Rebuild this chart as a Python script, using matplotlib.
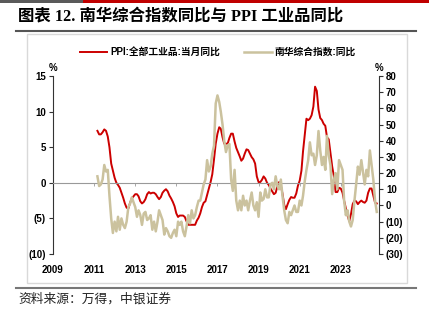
# 南华综合指数同比与 PPI 工业品同比
import numpy as np
import matplotlib
matplotlib.use('Agg')
import matplotlib.pyplot as plt
import pandas as pd
from matplotlib.lines import Line2D
from matplotlib.patches import Rectangle

plt.rcParams['font.family'] = ['Liberation Sans', 'Noto Sans CJK SC', 'DejaVu Sans']
plt.rcParams['axes.unicode_minus'] = False

# Data, monthly from 2011-03 to 2024-10
start = '2011-03-01'

# PPI: 全部工业品: 当月同比 (%), left axis
ppi = [7.3, 6.8, 6.8, 7.1, 7.5, 7.3, 6.5, 5.0, 2.7, 1.7,
       0.7, 0.0, -0.3, -0.7, -1.4, -2.1, -2.9, -3.5, -3.6, -2.8, -2.2, -1.9,
       -1.6, -1.6, -1.9, -2.6, -2.9, -2.7, -2.3, -1.6, -1.3, -1.5, -1.4, -1.4,
       -1.6, -2.0, -2.3, -2.0, -1.4, -1.1, -0.9, -1.2, -1.8, -2.2, -2.7, -3.3,
       -4.3, -4.8, -4.6, -4.6, -4.6, -4.8, -5.4, -5.9, -5.9, -5.9, -5.9, -5.9,
       -5.3, -4.9, -4.3, -3.4, -2.8, -2.6, -1.7, -0.8, 0.1, 1.2, 3.3, 5.5,
       6.9, 7.8, 7.6, 6.4, 5.5, 5.5, 5.5, 6.3, 6.9, 6.9, 5.8, 4.9,
       4.3, 3.7, 3.1, 3.4, 4.1, 4.7, 4.6, 4.1, 3.6, 3.3, 2.7, 0.9,
       0.1, 0.1, 0.4, 0.9, 0.6, 0.0, -0.3, -0.8, -1.2, -1.6, -1.4, -0.5,
       0.1, -0.4, -1.5, -3.1, -3.7, -3.0, -2.4, -2.0, -2.1, -2.1, -1.5, -0.4,
       0.3, 1.7, 4.4, 6.8, 9.0, 8.8, 9.0, 9.5, 10.7, 13.5, 12.9, 10.3,
       9.1, 8.8, 8.3, 8.0, 6.4, 6.1, 4.2, 2.3, 0.9, -1.3, -1.3, -0.7,
       -0.8, -1.4, -2.5, -3.6, -4.6, -5.4, -4.4, -3.0, -2.5, -2.6, -3.0, -2.7,
       -2.5, -2.7, -2.8, -2.5, -1.4, -0.8, -0.8, -1.8, -2.8, -2.9]

# 南华综合指数: 同比 (%), right axis
nanhua = [18, 12, 13, 16, 25, 21, 22, 6, -8, -17,
          -10, -16, -7, -15, -8, -12, -14, -10, -1, 1, 5, 2,
          -1, -7, -3, -6, -12, -5, -4, -9, -8, -6, -15, -10,
          -16, -10, -3, -6, -9, -18, -14, -16, -19, -20, -17, -15,
          -19, -10, -12, -10, -16, -19, -13, -6, -11, -3, -8, -6,
          -1, 3, 3, 8, 13, 16, 28, 21, 24, 32, 37, 63,
          68, 64, 58, 50, 40, 33, 37, 38, 16, 9, 22, 3,
          -3, 3, -3, 6, 0, 3, -3, 3, 8, 0, -3, 2,
          -7, 8, 3, 4, 10, 5, 5, 13, 14, 10, 18, 12,
          10, 16, 6, -3, -9, -11, -4, -6, -3, 0, -4, -4,
          3, 0, 6, 15, 22, 28, 39, 31, 32, 25, 31, 46,
          34, 25, 30, 22, 43, 31, 25, 7, 16, 20, 10, 28,
          25, 22, 3, -6, -3, -10, -13, -9, 3, 13, 24, 19,
          28, 20, 13, 22, 18, 34, 25, 16, 3, -4]

years = list(range(2009, 2024, 2))
left_ticks = [-10, -5, 0, 5, 10, 15]
right_ticks = [-30, -20, -10, 0, 10, 20, 30, 40, 50, 60, 70, 80]

dates = pd.date_range(start, periods=len(ppi), freq='MS')

def fmt(v):
    return '(%d)' % abs(v) if v < 0 else '%d' % v

W, H = 429, 321
fig = plt.figure(figsize=(W / 100, H / 100), dpi=100)

# page decoration
fig.patches.append(Rectangle((0, 1 - 3 / H), 83 / W, 3 / H, transform=fig.transFigure,
                             color='#5a5a5a', lw=0))
fig.patches.append(Rectangle((83 / W, 1 - 3 / H), 1 - 83 / W, 3 / H, transform=fig.transFigure,
                             color='#c00000', lw=0))
fig.text(18 / W, 1 - 16 / H, '图表 12. 南华综合指数同比与 PPI 工业品同比', fontsize=11.8,
         fontweight='bold', va='center', ha='left',
         family=['Liberation Serif', 'Noto Sans CJK SC'])
fig.lines.append(Line2D([16 / W, 416 / W], [1 - 31 / H, 1 - 31 / H], transform=fig.transFigure,
                        color='#555555', lw=1.5))
fig.patches.append(Rectangle((27 / W, 1 - 283 / H), 380 / W, 249 / H, transform=fig.transFigure,
                             fill=False, edgecolor='#d9d9d9', lw=1))
fig.lines.append(Line2D([16 / W, 416 / W], [1 - 288 / H, 1 - 288 / H], transform=fig.transFigure,
                        color='#777777', lw=1.5))
fig.text(18 / W, 1 - 299 / H, '资料来源：万得，中银证券', fontsize=9.2, style='italic',
         va='center', ha='left', color='#222222')

ax = fig.add_axes([53 / W, 1 - 254 / H, 326 / W, 178 / H])
ax.patch.set_alpha(0)
red_line, = ax.plot(dates, ppi, color='#cc0000', lw=1.4, label='PPI:全部工业品:当月同比')
ax.set_ylim(-10, 15)
ax.set_yticks(left_ticks)
ax.set_yticklabels([fmt(v) for v in left_ticks])
ax.set_xlim(pd.Timestamp('2009-01-01'), pd.Timestamp('2024-11-10'))
ax.set_xticks([pd.Timestamp('%d-01-01' % y) for y in years])
ax.set_xticklabels([str(y) for y in years])
for s in ['top', 'right']:
    ax.spines[s].set_visible(False)
ax.spines['left'].set_color('#333333')
ax.spines['bottom'].set_position(('data', 0))
ax.spines['bottom'].set_color('#999999')
ax.tick_params(axis='y', length=3, width=0.8, color='#333333', labelsize=7, pad=2)
ax.tick_params(axis='x', length=2, width=0.6, color='#999999', labelsize=7, pad=57)
for lab in ax.get_xticklabels() + ax.get_yticklabels():
    lab.set_fontweight('bold')
ax.text(0, 1.045, '%', transform=ax.transAxes, ha='center', va='center', fontsize=7,
        fontweight='bold')

ax2 = ax.twinx()
gray_line, = ax2.plot(dates, nanhua, color='#cbc29e', lw=1.8, label='南华综合指数:同比')
ax2.set_ylim(-30, 80)
ax2.set_yticks(right_ticks)
ax2.set_yticklabels([fmt(v) for v in right_ticks])
for s in ['top', 'left', 'bottom']:
    ax2.spines[s].set_visible(False)
ax2.spines['right'].set_color('#333333')
ax2.tick_params(axis='y', length=3, width=0.8, color='#333333', labelsize=7, pad=2)
for lab in ax2.get_yticklabels():
    lab.set_fontweight('bold')
ax2.text(1, 1.045, '%', transform=ax2.transAxes, ha='center', va='center', fontsize=7,
         fontweight='bold')

fig.legend(handles=[red_line, gray_line], loc='center', bbox_to_anchor=(0.508, 1 - 52 / H),
           ncol=2, frameon=False, handlelength=2.8, handletextpad=0.3,
           columnspacing=2.5, prop={'weight': 'bold', 'size': 7})

fig.savefig('out.png', dpi=100)
